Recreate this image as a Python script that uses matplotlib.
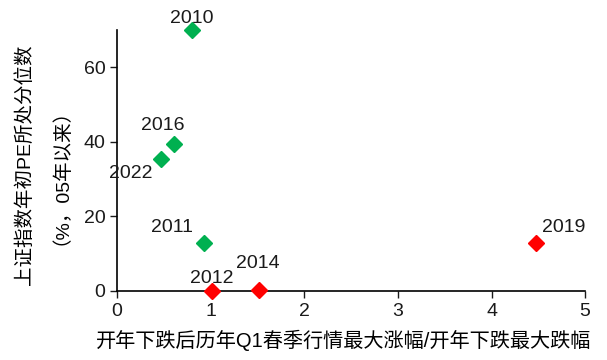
import matplotlib.pyplot as plt

plt.rcParams['font.family'] = ['Liberation Sans', 'Noto Sans CJK SC', 'DejaVu Sans']

# Datos
anios_verde = ['2010', '2016', '2022', '2011']
x_verde = [0.80, 0.61, 0.47, 0.93]
y_verde = [69.9, 39.4, 35.4, 12.9]

anios_rojo = ['2012', '2014', '2019']
x_rojo = [1.01, 1.52, 4.48]
y_rojo = [0.0, 0.3, 12.9]

# Desplazamiento de cada etiqueta (puntos)
desp = {'2010': (0, 2, 'center'), '2016': (-8, 7, 'center'), '2022': (-6, -17, 'right'),
        '2011': (-8, 5, 'right'), '2012': (0, 3, 'center'), '2014': (-1, 13, 'center'),
        '2019': (4, 5, 'left')}

fig = plt.figure(figsize=(6.07, 3.6), dpi=100)
ax = fig.add_axes([0.193, 0.192, 0.771, 0.725])

ax.plot(x_verde, y_verde, 'D', color='#00B050', markersize=8, linestyle='none', clip_on=False)
ax.plot(x_rojo, y_rojo, 'D', color='#FF0000', markersize=8, linestyle='none', clip_on=False, zorder=5)

for a, x, y in zip(anios_verde + anios_rojo, x_verde + x_rojo, y_verde + y_rojo):
    dx, dy, ha = desp[a]
    ax.annotate(a, (x, y), xytext=(dx, dy), textcoords='offset points',
                ha=ha, va='bottom', fontsize=14, color='#1a1a1a')

ax.set_xlim(0, 5)
ax.set_ylim(0, 70)
ax.set_xticks([0, 1, 2, 3, 4, 5])
ax.set_yticks([0, 20, 40, 60])
ax.tick_params(labelsize=14, direction='out', length=5, width=1, colors='#1a1a1a')
ax.spines['top'].set_visible(False)
ax.spines['right'].set_visible(False)
ax.spines['left'].set_linewidth(1.2)
ax.spines['bottom'].set_linewidth(1.2)

ax.set_xlabel('开年下跌后历年Q1春季行情最大涨幅/开年下跌最大跌幅', fontsize=14.5, labelpad=7)
ax.xaxis.label.set_x(0.483)

# Etiqueta del eje Y en dos líneas separadas
fig.text(25 / 607, 1 - 165 / 360, '上证指数年初PE所处分位数', rotation=90,
         ha='center', va='center', fontsize=14)
fig.text(51 / 607, 1 - 167 / 360, '（%，05年以来）', rotation=90,
         ha='center', va='center', fontsize=14)

fig.savefig('out.png', dpi=100)
